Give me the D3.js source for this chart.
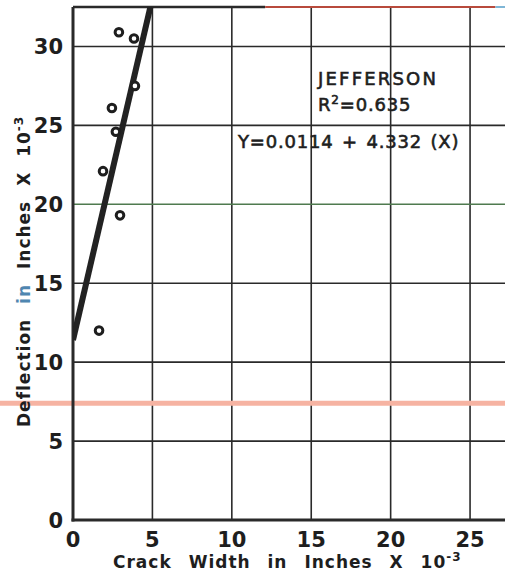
<!DOCTYPE html>
<html>
<head>
<meta charset="utf-8">
<script src="https://cdn.jsdelivr.net/npm/d3@7"></script>
<style>
  html, body { margin: 0; padding: 0; background: #fff; }
  svg { display: block; }
  text { font-family: "DejaVu Sans", sans-serif; fill: #1e1e1e; }
</style>
</head>
<body>
<svg id="chart" width="505" height="576"></svg>
<script>
// Crack width (x 10^-3 in) vs deflection (x 10^-3 in), Jefferson site
const crackWidth = [2.89, 3.84, 3.90, 2.45, 2.70, 1.89, 2.96, 1.64];
const deflection = [30.9, 30.5, 27.5, 26.1, 24.6, 22.1, 19.3, 12.0];

// Fitted line in inches: Y = 0.0114 + 4.332 X  ->  in 10^-3 units: Y = 11.4 + 4.332 X
const fitIntercept = 11.4;
const fitSlope = 4.332;

const xTicks = [0, 5, 10, 15, 20, 25];
const yTicks = [0, 5, 10, 15, 20, 25, 30];
const xTickLabels = ["0", "5", "10", "15", "20", "25"];
const yTickLabels = ["0", "5", "10", "15", "20", "25", "30"];

const svg = d3.select("#chart");
const x = d3.scaleLinear().domain([0, 27.2]).range([73, 505]);
const y = d3.scaleLinear().domain([0, 32.5]).range([520, 7]);

const ink = "#2a2a2a";

// grid
const grid = svg.append("g");
grid.selectAll("line.v").data(xTicks.filter(d => d > 0)).join("line")
  .attr("x1", d => x(d)).attr("x2", d => x(d))
  .attr("y1", y(0)).attr("y2", y(32.5))
  .attr("stroke", ink).attr("stroke-width", 1.6);
grid.selectAll("line.h").data(yTicks.filter(d => d > 0)).join("line")
  .attr("x1", x(0)).attr("x2", x(27.2))
  .attr("y1", d => y(d)).attr("y2", d => y(d))
  .attr("stroke", d => d === 20 ? "#4f7a4f" : ink).attr("stroke-width", 1.6);

// faded salmon band across the sheet
svg.append("line")
  .attr("x1", 0).attr("x2", 505)
  .attr("y1", y(7.4)).attr("y2", y(7.4))
  .attr("stroke", "#f6b3a2").attr("stroke-width", 5);

// top frame
svg.append("line")
  .attr("x1", x(0)).attr("x2", x(12.1)).attr("y1", y(32.5)).attr("y2", y(32.5))
  .attr("stroke", ink).attr("stroke-width", 2.5);
svg.append("line")
  .attr("x1", x(12.1)).attr("x2", x(26.6)).attr("y1", y(32.5)).attr("y2", y(32.5))
  .attr("stroke", "#b84a3c").attr("stroke-width", 2);
svg.append("line")
  .attr("x1", x(26.6)).attr("x2", 505).attr("y1", y(32.5)).attr("y2", y(32.5))
  .attr("stroke", "#7fb6d6").attr("stroke-width", 2);

// axes
svg.append("line")
  .attr("x1", x(0)).attr("x2", x(0)).attr("y1", y(0) + 1.5).attr("y2", y(32.5))
  .attr("stroke", ink).attr("stroke-width", 3);
svg.append("line")
  .attr("x1", x(0) - 1.5).attr("x2", 505).attr("y1", y(0)).attr("y2", y(0))
  .attr("stroke", ink).attr("stroke-width", 3);

// tick labels
svg.selectAll("text.xt").data(xTicks).join("text")
  .attr("x", d => x(d)).attr("y", 547)
  .attr("text-anchor", "middle")
  .attr("font-size", 21).attr("font-weight", "bold")
  .text((d, i) => xTickLabels[i]);
svg.selectAll("text.yt").data(yTicks).join("text")
  .attr("x", 63).attr("y", d => y(d) + 8)
  .attr("text-anchor", "end")
  .attr("font-size", 21).attr("font-weight", "bold")
  .text((d, i) => yTickLabels[i]);

// clip to plot area
svg.append("clipPath").attr("id", "plot")
  .append("rect").attr("x", x(0)).attr("y", y(32.5))
  .attr("width", 505 - x(0)).attr("height", y(0) - y(32.5));

// regression line
const xEnd = (32.5 - fitIntercept) / fitSlope;
svg.append("line")
  .attr("clip-path", "url(#plot)")
  .attr("x1", x(0)).attr("y1", y(fitIntercept))
  .attr("x2", x(xEnd + 0.2)).attr("y2", y(fitIntercept + fitSlope * (xEnd + 0.2)))
  .attr("stroke", "#222").attr("stroke-width", 6);

// observations
svg.selectAll("circle.pt").data(crackWidth).join("circle")
  .attr("cx", d => x(d)).attr("cy", (d, i) => y(deflection[i]))
  .attr("r", 3.8)
  .attr("fill", "#fff").attr("stroke", "#1e1e1e").attr("stroke-width", 3);

// annotation
const ann = svg.append("g").attr("font-size", 18)
  .attr("stroke", "#1e1e1e").attr("stroke-width", 0.6);
ann.append("text").attr("x", 318).attr("y", 85).attr("letter-spacing", 2.2).text("JEFFERSON");
const r2 = ann.append("text").attr("x", 318).attr("y", 111).attr("letter-spacing", 0.8);
r2.append("tspan").text("R");
r2.append("tspan").attr("dy", -7).attr("font-size", 12).text("2");
r2.append("tspan").attr("dy", 7).text("=0.635");
ann.append("text").attr("x", 238).attr("y", 148).attr("letter-spacing", 0.8)
  .attr("word-spacing", 2).text("Y=0.0114 + 4.332 (X)");

// axis titles
const xt = svg.append("text")
  .attr("x", 113).attr("y", 568)
  .attr("font-size", 17).attr("font-weight", "bold")
  .attr("letter-spacing", 1).attr("word-spacing", 10);
xt.append("tspan").text("Crack Width in Inches X 10");
xt.append("tspan").attr("dy", -7).attr("font-size", 12).text("-3");

const yt = svg.append("text")
  .attr("transform", "translate(30,427) rotate(-90)")
  .attr("font-size", 17).attr("font-weight", "bold")
  .attr("letter-spacing", 1).attr("word-spacing", 8);
yt.append("tspan").text("Deflection ");
yt.append("tspan").attr("fill", "#4f86b0").text("in");
yt.append("tspan").text(" Inches X 10");
yt.append("tspan").attr("dy", -7).attr("font-size", 12).text("-3");
</script>
</body>
</html>
